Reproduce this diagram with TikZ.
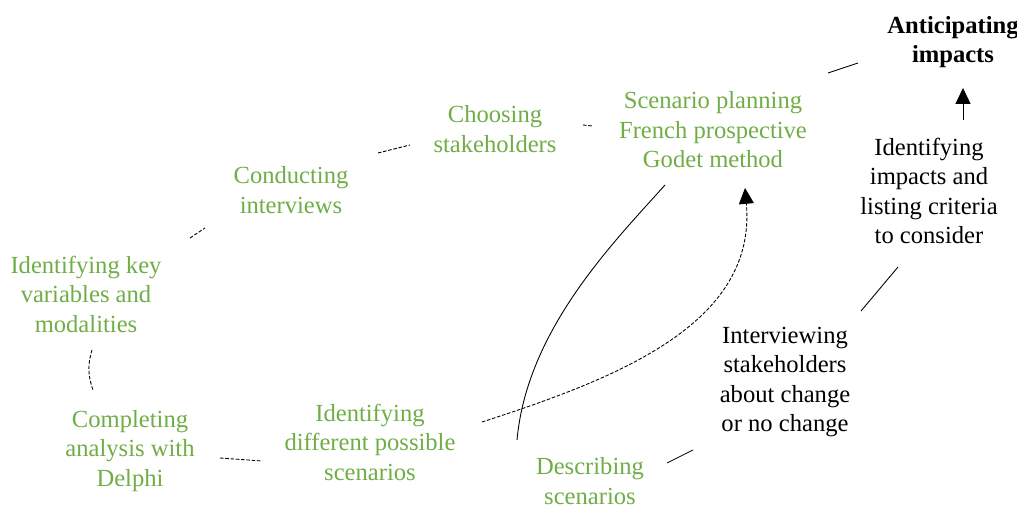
\documentclass[tikz,border=0pt]{standalone}
\usepackage{fontspec}
\setmainfont{Liberation Serif}
\usepackage{tikz}
\usetikzlibrary{arrows.meta,calc,positioning}
\definecolor{leafgreen}{RGB}{112,173,71}

\begin{document}
\begin{tikzpicture}[x=0.02cm,y=-0.02cm,
    every node/.style={align=center,inner sep=2pt,font=\fontsize{14}{16.8}\selectfont},
    gstep/.style={text=leafgreen},
    kstep/.style={text=black},
    link/.style={line width=0.5pt},
    dlink/.style={line width=0.5pt,dash pattern=on 2pt off 1pt},
    tip/.style={-{Triangle[length=9pt,width=8.5pt]}}]
          % Page frame
          \useasboundingbox (0,0) rectangle (1017,506);
          % Green steps
          \node[gstep] (godet) at (713,130) {Scenario planning\\French prospective\\Godet method};
          \node[gstep] (choose) at (495,129) {Choosing\\stakeholders};
          \node[gstep] (conduct) at (291,190) {Conducting\\interviews};
          \node[gstep] (keyvar) at (86,294) {Identifying key\\variables and\\modalities};
          \node[gstep] (delphi) at (130,451) {Completing\\analysis with\\Delphi};
          \node[gstep] (scen) at (370,442) {Identifying\\different possible\\scenarios};
          \node[gstep] (describe) at (590,481) {Describing\\scenarios};
          % Black steps
          \node[kstep] (interv) at (785,382) {Interviewing\\stakeholders\\about change\\or no change};
          \node[kstep] (impacts) at (929,191) {Identifying\\impacts and\\listing criteria\\to consider};
          \node[kstep,font=\fontsize{14}{16.8}\selectfont\bfseries] (antic) at (953,42) {Anticipating\\impacts};
          % Dashed links
          \draw[dlink] ([shift={(6,56)}]keyvar.center) to[bend right=18] ([shift={(-37,-61)}]delphi.center);
          \draw[dlink] ([shift={(90,7)}]delphi.center) -- ([shift={(-108,19)}]scen.center);
          \draw[dlink] ([shift={(104,-56)}]keyvar.center) -- ([shift={(-86,38)}]conduct.center);
          \draw[dlink] ([shift={(87,-37)}]conduct.center) -- ([shift={(-85,16)}]choose.center);
          \draw[dlink] ([shift={(88,-4)}]choose.center) -- ([shift={(-121,-4)}]godet.center);
          \draw[dlink,tip] ([shift={(112,-20)}]scen.center) to[out=18,in=-85] ([shift={(32,58)}]godet.center);
          % Solid links
          \draw[link] ([shift={(-73,-41)}]describe.center) .. controls +(10,-110) and +(-52,58) .. ([shift={(-48,55)}]godet.center);
          \draw[link] ([shift={(77,-18)}]describe.center) -- ([shift={(-92,68)}]interv.center);
          \draw[link] ([shift={(76,-71)}]interv.center) -- ([shift={(-31,76)}]impacts.center);
          \draw[link,tip] ([shift={(34,-71)}]impacts.center) -- ([shift={(10,46)}]antic.center);
          \draw[link] ([shift={(115,-57)}]godet.center) -- ([shift={(-95,21)}]antic.center);
\end{tikzpicture}
\end{document}
